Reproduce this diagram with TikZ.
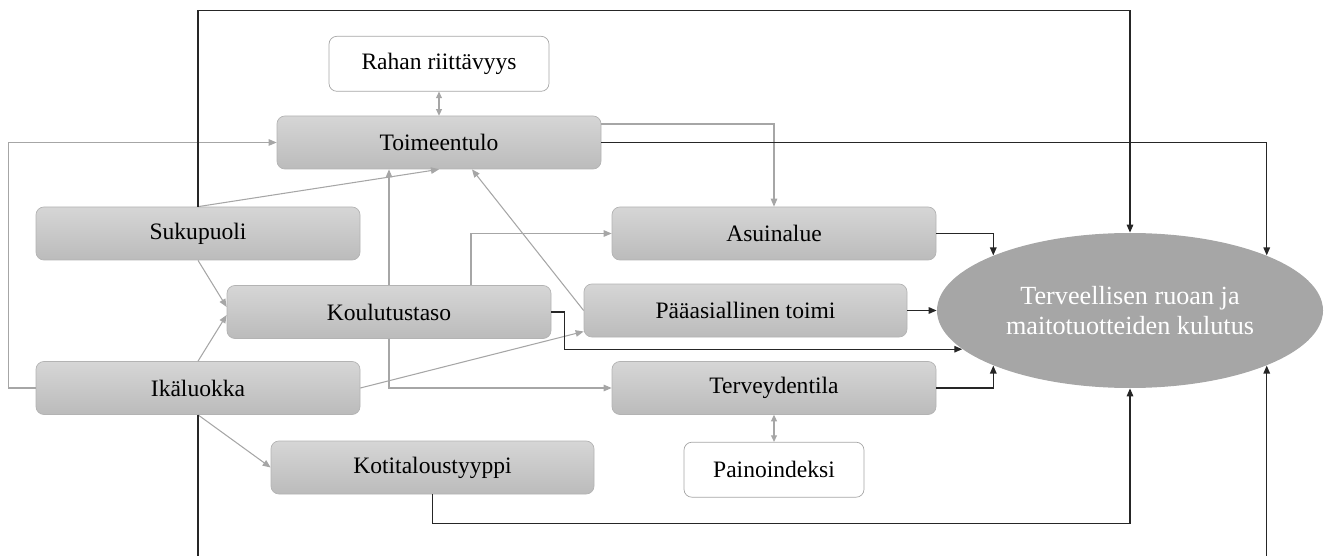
\documentclass[tikz,border=0pt]{standalone}
\usepackage{fontspec}
\setmainfont{Liberation Serif}
\usepackage{xcolor}
\usepackage{tikz}
\usetikzlibrary{shapes.geometric, arrows.meta, positioning}

\definecolor{boxtop}{HTML}{D6D6D6}
\definecolor{boxbot}{HTML}{BBBBBB}
\definecolor{boxline}{HTML}{B3B3B3}
\definecolor{linkgray}{HTML}{A6A6A6}
\definecolor{goalfill}{HTML}{A6A6A6}

\begin{document}
\begin{tikzpicture}[
  % Node styles
  block/.style={draw=boxline, rounded corners=4.5pt, top color=boxtop, bottom color=boxbot,
                minimum width=6.48cm, minimum height=1.06cm, inner sep=0pt,
                align=center, font=\fontsize{13.4}{16}\selectfont},
  whitebox/.style={draw=linkgray, rounded corners=4.5pt, fill=white, minimum height=1.1cm,
                   inner sep=0pt, align=center, font=\fontsize{13.4}{16}\selectfont},
  goal/.style={ellipse, fill=goalfill, minimum width=7.72cm, minimum height=3.1cm,
               inner sep=0pt, align=center, text=white, font=\fontsize{14.9}{17}\selectfont},
  % Arrow styles
  garr/.style={-{Triangle[length=1.6mm, width=1.3mm]}, linkgray, line width=0.6pt},
  gbiarr/.style={{Triangle[length=1.3mm, width=1.2mm]}-{Triangle[length=1.3mm, width=1.2mm]},
                 linkgray, line width=0.6pt},
  arr/.style={-{Triangle[length=1.6mm, width=1.3mm]}, black!85, line width=0.8pt},
]
  \useasboundingbox (0,0) rectangle (26.64,-11.12);
  \clip (0,0) rectangle (26.64,-11.12);

  % ── Income block ──
  \node[block] (toimeentulo) at (8.78,-2.85) {Toimeentulo};
  \node[whitebox, minimum width=4.4cm, above=0.48cm of toimeentulo] (rahan) {Rahan riittävyys};

  % ── Background factors (left) ──
  \node[block] (sukupuoli) at (3.96,-4.67) {Sukupuoli};
  \node[block] (koulutus) at (7.78,-6.24) {Koulutustaso};
  \node[block] (ika) at (3.96,-7.76) {Ikäluokka};
  \node[block, minimum width=6.46cm] (koti) at (8.65,-9.35) {Kotitaloustyyppi};

  % ── Middle column ──
  \node[block] (asuin) at (15.48,-4.67) {Asuinalue};
  \node[block, minimum width=6.46cm] (paa) at (14.91,-6.21) {Pääasiallinen toimi};
  \node[block] (terveys) at (15.48,-7.76) {Terveydentila};
  \node[whitebox, minimum width=3.6cm, below=0.54cm of terveys] (paino) {Painoindeksi};

  % ── Outcome ──
  \node[goal] (kulutus) at (22.6,-6.21) {Terveellisen ruoan ja\\maitotuotteiden kulutus};

  % ── Gray arrows: between factors ──
  \draw[gbiarr] (rahan.south) -- (toimeentulo.north);
  \draw[gbiarr] (terveys.south) -- (paino.north);
  \draw[garr] (ika.west) -- ++(-0.54,0) |- (toimeentulo.west);
  \draw[garr] (sukupuoli.north) -- (toimeentulo.south);
  \draw[garr] (koulutus.north) -- (koulutus.north |- toimeentulo.south);
  \draw[garr] (koulutus.south) |- (terveys.west);
  \draw[garr] ([xshift=1.64cm]koulutus.north) |- (asuin.west);
  \draw[garr] ([yshift=0.37cm]toimeentulo.east) -| (asuin.north);
  \draw[garr] (paa.west) -- ([xshift=0.66cm]toimeentulo.south);
  \draw[garr] (ika.east) -- ([yshift=-0.42cm]paa.west);
  \draw[garr] (sukupuoli.south) -- ([yshift=0.1cm]koulutus.west);
  \draw[garr] (ika.north) -- ([yshift=-0.06cm]koulutus.west);
  \draw[garr] (ika.south) -- (koti.west);

  % ── Black arrows: into the outcome ──
  \draw[arr] (toimeentulo.east) -| (kulutus.north east);
  \draw[arr] (asuin.east) -| (kulutus.north west);
  \draw[arr] (paa.east) -- (kulutus.west);
  \draw[arr] (koulutus.east) -- ++(0.26,0) |- (kulutus.193);
  \draw[arr] (terveys.east) -| (kulutus.south west);
  \draw[arr] (koti.south) -- ++(0,-0.58) -| (kulutus.south);
  \draw[arr] (sukupuoli.north) -- ++(0,3.92) -| (kulutus.north);
  \draw[arr] (ika.south) -- ++(0,-3.4) -| (kulutus.south east);

\end{tikzpicture}
\end{document}
